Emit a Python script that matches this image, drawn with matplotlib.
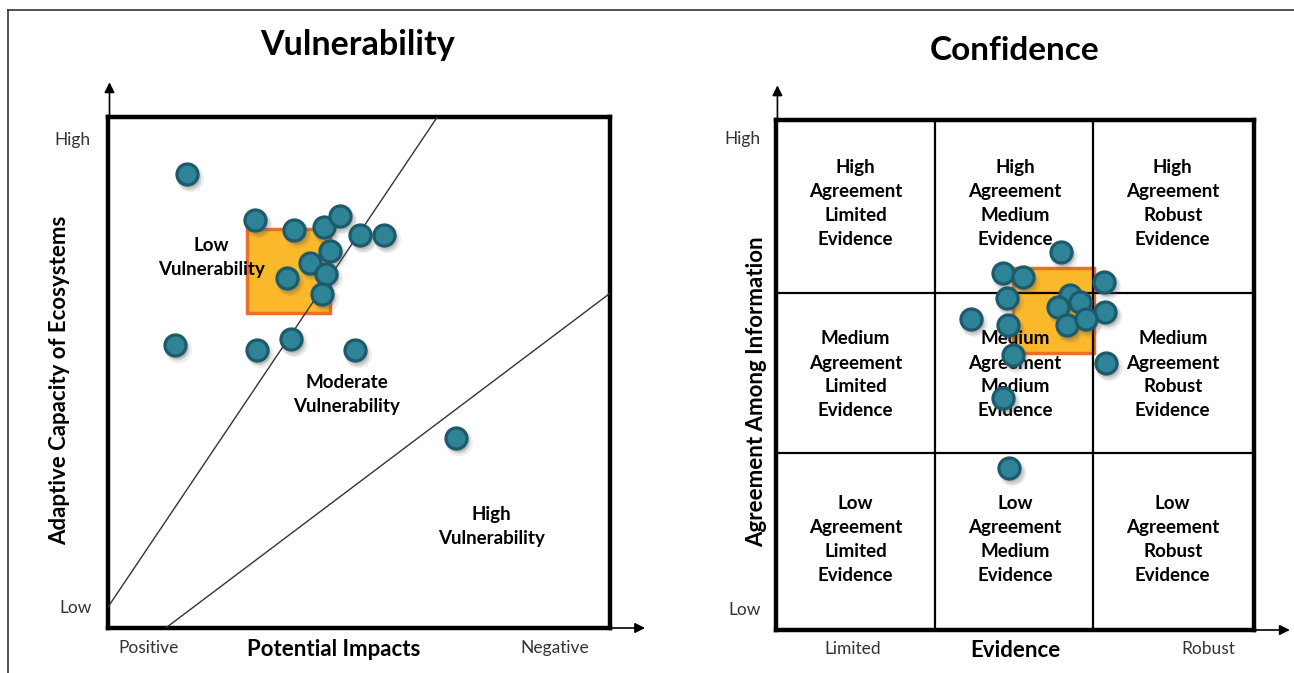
import matplotlib
matplotlib.use("Agg")
import matplotlib.pyplot as plt
from matplotlib.patches import Rectangle
from matplotlib.lines import Line2D
from matplotlib.transforms import offset_copy

plt.rcParams['font.family'] = ['Lato', 'DejaVu Sans']

# ---------------- data ----------------
# Vulnerability panel (0..10 scale on both axes)
vuln_x = [1.57, 2.93, 3.71, 4.30, 4.63, 5.02, 5.49, 4.42, 4.02, 4.34, 3.56, 4.26, 1.33, 2.96, 3.64, 4.92, 6.93]
vuln_y = [8.88, 7.98, 7.79, 7.84, 8.06, 7.69, 7.69, 7.37, 7.15, 6.93, 6.84, 6.54, 5.54, 5.45, 5.65, 5.44, 3.72]
vuln_box_x = [2.76, 4.43]
vuln_box_y = [6.17, 7.80]
boundary1 = ([0.0, 6.56], [0.41, 10.0])
boundary2 = ([1.15, 10.0], [0.0, 6.55])
vuln_labels = ["Low\nVulnerability", "Moderate\nVulnerability", "High\nVulnerability"]
vuln_label_x = [2.06, 4.75, 7.64]
vuln_label_y = [7.25, 4.56, 1.98]

# Confidence panel (0..3 scale)
conf_x = [1.787, 1.423, 1.548, 2.059, 1.448, 1.845, 1.908, 1.772, 2.065, 1.222, 1.458, 1.825, 1.946, 1.486, 2.071, 1.427, 1.464]
conf_y = [2.225, 2.098, 2.075, 2.049, 1.951, 1.971, 1.931, 1.898, 1.872, 1.828, 1.794, 1.794, 1.828, 1.618, 1.569, 1.363, 0.951]
conf_box_x = [1.487, 1.996]
conf_box_y = [1.631, 2.129]
col_bounds = [1.0, 1.99]
row_bounds = [1.04, 1.98]
agreement = ["High", "Medium", "Low"]
evidence = ["Limited", "Medium", "Robust"]
row_centers = [2.51, 1.50, 0.53]
col_centers = [0.50, 1.50, 2.49]

# ---------------- style ----------------
FILL = "#2E8397"
EDGE = "#1D5A6C"
ORANGE = "#FBB82A"
ORANGE_EDGE = "#E8702A"
TICK = "#333333"

fig = plt.figure(figsize=(12.94, 6.73), dpi=100)

# outer frame (partial, as in reference)
fig.add_artist(Line2D([8/1294, 1.0], [1 - 10/673, 1 - 10/673], color="#333333", lw=1.2))
fig.add_artist(Line2D([8/1294, 8/1294], [0.0, 1 - 10/673], color="#333333", lw=1.2))


def points(ax, xs, ys):
    for x, y in zip(xs, ys):
        for dx, dy, a, s in [(3, -4, 0.10, 380), (2.5, -3.5, 0.15, 300), (2, -3, 0.2, 240)]:
            tr = offset_copy(ax.transData, fig=fig, x=dx, y=dy, units='dots')
            ax.scatter([x], [y], s=s, color="#555555", alpha=a, linewidths=0, transform=tr, zorder=5, clip_on=False)
        ax.scatter([x], [y], s=230, color=FILL, edgecolors=EDGE, linewidths=2.3, zorder=6, clip_on=False)


def frame(ax):
    for sp in ax.spines.values():
        sp.set_linewidth(3.2)
        sp.set_color("black")
    ax.set_xticks([])
    ax.set_yticks([])


def arrows(ax, xend, yend):
    props = dict(arrowstyle="-|>", color="black", lw=1.2, mutation_scale=15, shrinkA=0, shrinkB=0)
    ax.annotate("", xy=(0.003, yend), xytext=(0.003, 1.0), xycoords="axes fraction", arrowprops=props)
    ax.annotate("", xy=(xend, 0.0), xytext=(1.0, 0.0), xycoords="axes fraction", arrowprops=props)


# ---------------- left: Vulnerability ----------------
axL = fig.add_axes([108/1294, 45/673, 502/1294, 511/673])
axL.set_xlim(0, 10)
axL.set_ylim(0, 10)
frame(axL)
axL.add_patch(Rectangle((vuln_box_x[0], vuln_box_y[0]), vuln_box_x[1] - vuln_box_x[0], vuln_box_y[1] - vuln_box_y[0],
                        facecolor=ORANGE, edgecolor=ORANGE_EDGE, lw=2.5, zorder=2))
axL.plot(*boundary1, color="#333333", lw=1.0, zorder=3)
axL.plot(*boundary2, color="#333333", lw=1.0, zorder=3)
for t, x, y in zip(vuln_labels, vuln_label_x, vuln_label_y):
    axL.text(x, y, t, ha="center", va="center", fontsize=13.5, fontweight="bold", linespacing=1.5, zorder=4)
points(axL, vuln_x, vuln_y)
fig.text(358/1294, 1 - 45/673, "Vulnerability", ha="center", va="center", fontsize=24.5, fontweight="bold")
axL.text(-0.07, 0.955, "High", transform=axL.transAxes, ha="center", va="center", fontsize=12.5, color=TICK)
axL.text(-0.065, 0.04, "Low", transform=axL.transAxes, ha="center", va="center", fontsize=12.5, color=TICK)
axL.text(0.08, -0.04, "Positive", transform=axL.transAxes, ha="center", va="center", fontsize=12.5, color=TICK)
axL.text(0.89, -0.04, "Negative", transform=axL.transAxes, ha="center", va="center", fontsize=12.5, color=TICK)
axL.text(0.45, -0.043, "Potential Impacts", transform=axL.transAxes, ha="center", va="center", fontsize=16, fontweight="bold")
axL.text(-0.096, 0.485, "Adaptive Capacity of Ecosystems", transform=axL.transAxes, ha="center", va="center",
         rotation=90, fontsize=16, fontweight="bold")
arrows(axL, 1.07, 1.068)

# ---------------- right: Confidence ----------------
axR = fig.add_axes([776/1294, 43/673, 478/1294, 510/673])
axR.set_xlim(0, 3)
axR.set_ylim(0, 3)
frame(axR)
axR.add_patch(Rectangle((conf_box_x[0], conf_box_y[0]), conf_box_x[1] - conf_box_x[0], conf_box_y[1] - conf_box_y[0],
                        facecolor=ORANGE, edgecolor=ORANGE_EDGE, lw=2.5, zorder=2))
for b in col_bounds:
    axR.axvline(b, color="black", lw=1.6, zorder=3)
for b in row_bounds:
    axR.axhline(b, color="black", lw=1.6, zorder=3)
for a, yc in zip(agreement, row_centers):
    for e, xc in zip(evidence, col_centers):
        axR.text(xc, yc, f"{a}\nAgreement\n{e}\nEvidence", ha="center", va="center",
                 fontsize=13.5, fontweight="bold", linespacing=1.5, zorder=4)
points(axR, conf_x, conf_y)
fig.text(1015/1294, 1 - 50/673, "Confidence", ha="center", va="center", fontsize=24, fontweight="bold")
axR.text(-0.07, 0.962, "High", transform=axR.transAxes, ha="center", va="center", fontsize=12.5, color=TICK)
axR.text(-0.065, 0.04, "Low", transform=axR.transAxes, ha="center", va="center", fontsize=12.5, color=TICK)
axR.text(0.16, -0.037, "Limited", transform=axR.transAxes, ha="center", va="center", fontsize=12.5, color=TICK)
axR.text(0.905, -0.037, "Robust", transform=axR.transAxes, ha="center", va="center", fontsize=12.5, color=TICK)
axR.text(0.5, -0.04, "Evidence", transform=axR.transAxes, ha="center", va="center", fontsize=16, fontweight="bold")
axR.text(-0.04, 0.467, "Agreement Among Information", transform=axR.transAxes, ha="center", va="center",
         rotation=90, fontsize=16, fontweight="bold")
arrows(axR, 1.075, 1.068)

fig.savefig("out.png", dpi=100)
